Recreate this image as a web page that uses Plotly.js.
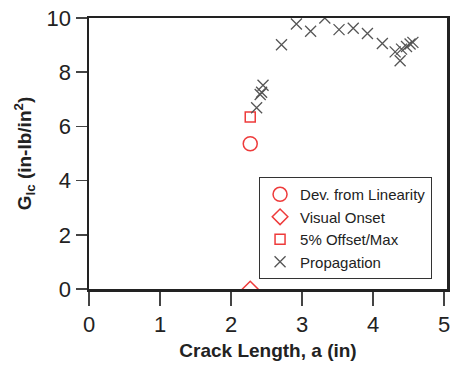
<!DOCTYPE html>
<html><head><meta charset="utf-8">
<script src="https://cdn.plot.ly/plotly-3.0.1.min.js"></script>
<style>html,body{margin:0;padding:0;background:#fff}#chart{width:453px;height:369px}</style>
</head><body><div id="chart"></div>
<script>
// Data
const devX = [2.27];
const devY = [5.36];
const visX = [2.27];
const visY = [0.0];
const offX = [2.27];
const offY = [6.35];
const propX = [2.36, 2.41, 2.43, 2.45, 2.71, 2.92, 3.12, 3.32, 3.52, 3.72, 3.92, 4.13, 4.31, 4.38, 4.40, 4.47, 4.52, 4.56];
const propY = [6.69, 7.18, 7.26, 7.52, 9.01, 9.78, 9.51, 10.0, 9.57, 9.62, 9.43, 9.06, 8.75, 8.42, 8.85, 8.95, 9.04, 9.10];
const xTicks = [0, 1, 2, 3, 4, 5];
const yTicks = [0, 2, 4, 6, 8, 10];

const red = '#ee3b3b';
const traces = [
  {x: devX, y: devY, name: 'Dev. from Linearity', mode: 'markers', type: 'scatter',
   marker: {symbol: 'circle-open', size: 14, color: red, line: {width: 1.5, color: red}}},
  {x: visX, y: visY, name: 'Visual Onset', mode: 'markers', type: 'scatter',
   marker: {symbol: 'diamond-open', size: 12, color: red, line: {width: 1.5, color: red}}},
  {x: offX, y: offY, name: '5% Offset/Max', mode: 'markers', type: 'scatter',
   marker: {symbol: 'square-open', size: 10, color: red, line: {width: 1.5, color: red}}},
  {x: propX, y: propY, name: 'Propagation', mode: 'markers', type: 'scatter',
   marker: {symbol: 'x-thin-open', size: 11, color: '#555', line: {width: 1.3, color: '#555'}}}
];

const tickFont = {family: '"Liberation Sans Narrow", "Arial Narrow", "Liberation Sans", Arial, sans-serif', size: 22, color: '#222'};
const layout = {
  width: 453, height: 369,
  margin: {l: 89, r: 6, t: 18, b: 80, pad: 0},
  paper_bgcolor: '#fff', plot_bgcolor: '#fff',
  showlegend: true,
  legend: {x: 0.475, y: 0.413, xanchor: 'left', yanchor: 'top',
    bgcolor: '#fff', bordercolor: '#333', borderwidth: 1,
    font: {family: '"Liberation Sans", Arial, sans-serif', size: 15, color: '#222'},
    tracegroupgap: 0},
  xaxis: {range: [0, 5.04], tickvals: xTicks, ticktext: xTicks.map(String),
    ticks: 'outside', ticklen: 14, tickwidth: 1.5, tickcolor: '#444',
    showline: true, linewidth: 2.5, linecolor: '#222', mirror: true,
    showgrid: false, zeroline: false, tickfont: tickFont,
    title: {text: 'Crack Length, a (in)', standoff: 8,
      font: {family: '"Liberation Sans", Arial, sans-serif', size: 19, color: '#222', weight: 'bold'}}},
  yaxis: {range: [0, 10], tickvals: yTicks, ticktext: yTicks.map(String),
    ticks: 'outside', ticklen: 11, tickwidth: 1.5, tickcolor: '#444',
    showline: true, linewidth: 2.5, linecolor: '#222', mirror: true,
    showgrid: false, zeroline: false, tickfont: tickFont,
    title: {text: 'G<sub>Ic</sub> (in-lb/in<sup>2</sup>)', standoff: 10,
      font: {family: '"Liberation Sans", Arial, sans-serif', size: 19, color: '#222', weight: 'bold'}}}
};
Plotly.newPlot('chart', traces, layout, {displayModeBar: false, staticPlot: true});
</script></body></html>
